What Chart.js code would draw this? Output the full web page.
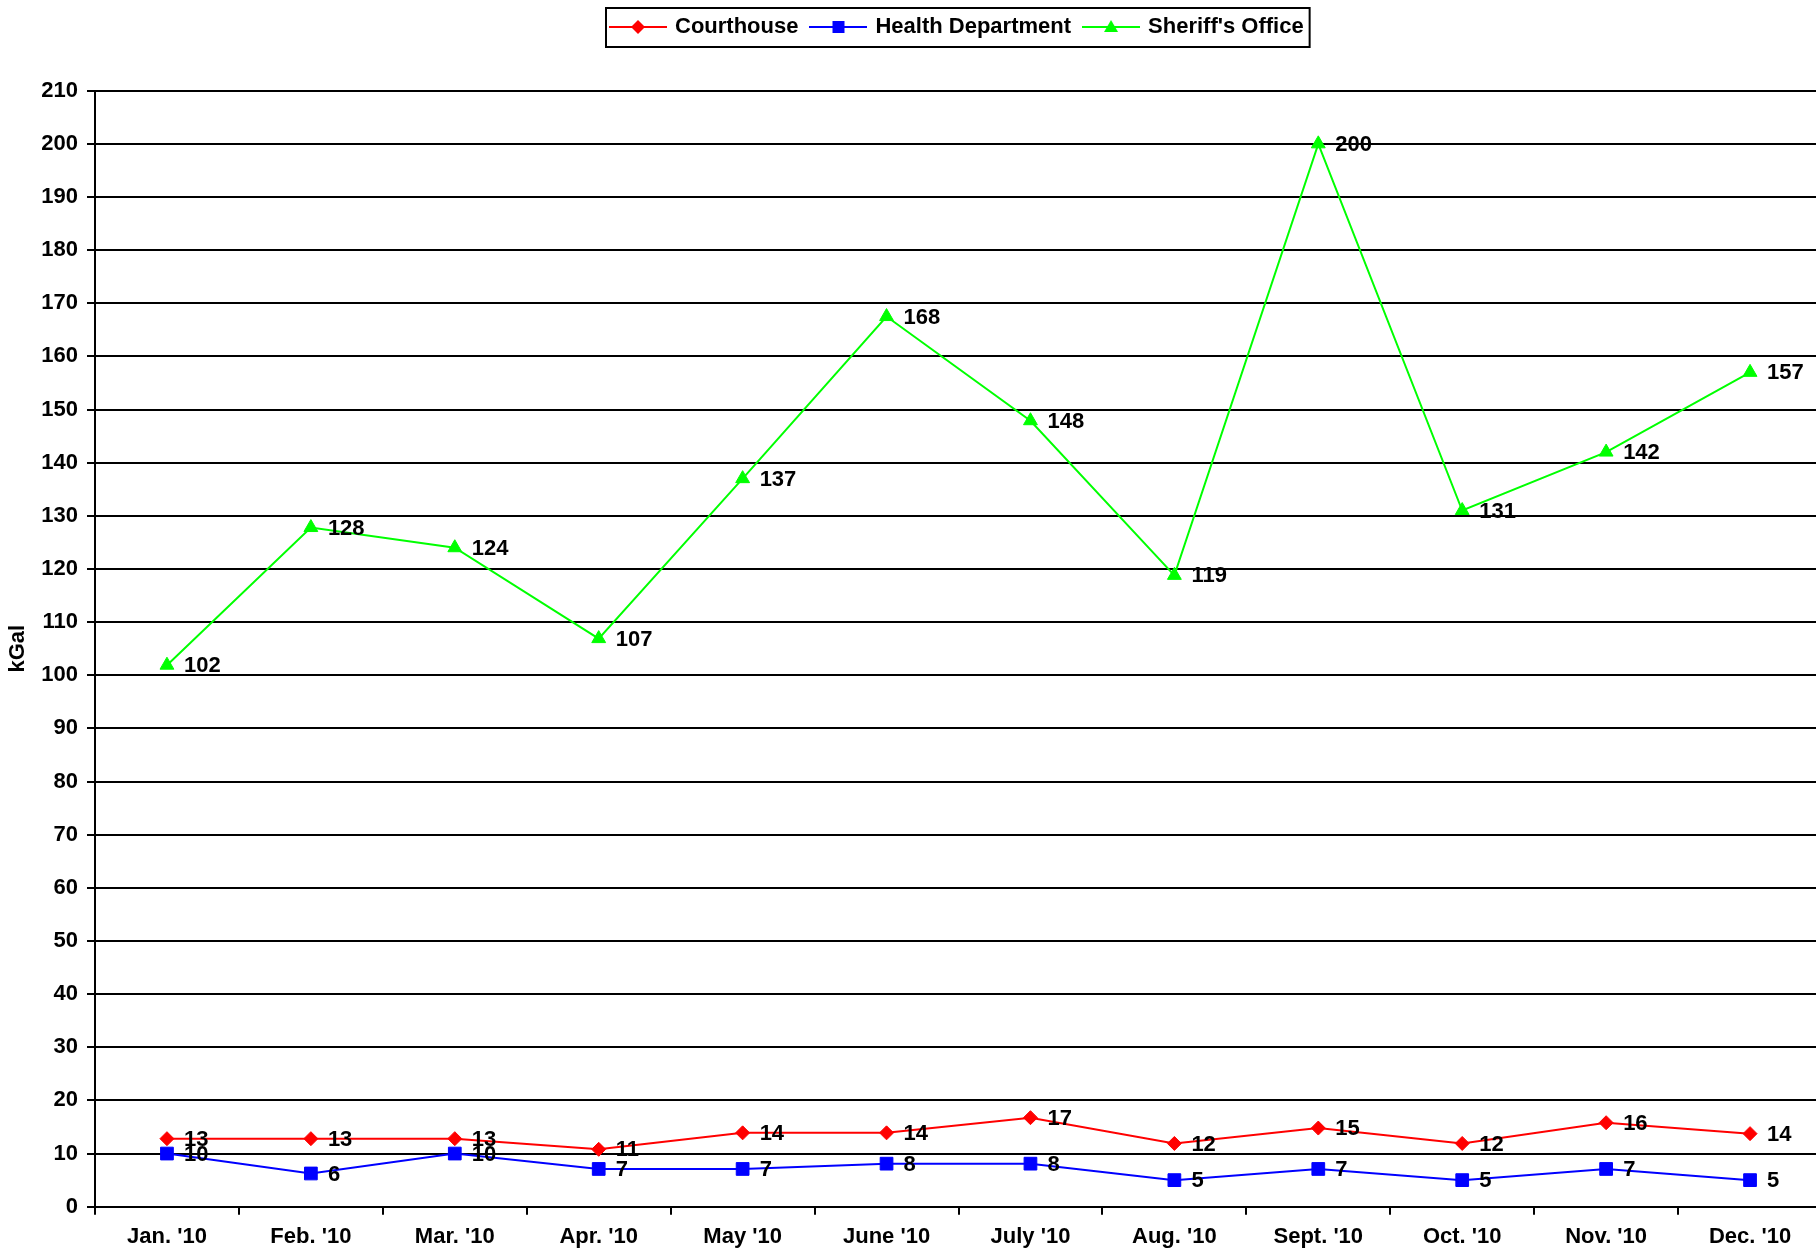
<!DOCTYPE html>
<html>
<head>
<meta charset="utf-8">
<script src="https://cdn.jsdelivr.net/npm/chart.js@4.4.0/dist/chart.umd.min.js"></script>
<style>
  html, body { margin: 0; padding: 0; background: #fff; overflow: hidden; }
  canvas { display: block; }
</style>
</head>
<body>
<canvas id="chart" width="1832" height="1252"></canvas>
<script>
// monthly water use, kGal
const months = ["Jan. '10", "Feb. '10", "Mar. '10", "Apr. '10", "May '10", "June '10",
                "July '10", "Aug. '10", "Sept. '10", "Oct. '10", "Nov. '10", "Dec. '10"];
const courthouse = [12.8, 12.8, 12.8, 10.8, 13.9, 13.9, 16.75, 11.9, 14.8, 11.9, 15.8, 13.75];
const health     = [10.0, 6.25, 10.0, 7.1, 7.1, 8.1, 8.1, 5.0, 7.1, 5.0, 7.1, 5.0];
const sheriff    = [101.9, 127.8, 124.0, 106.9, 137, 167.5, 147.9, 118.8, 200, 131, 142, 157];

const FONT = '"Liberation Sans", Arial, sans-serif';
const FSIZE = 22;
Chart.defaults.font.family = FONT;
Chart.defaults.color = '#000';

// small line+marker picture for each legend entry
function legendSymbol(color, shape) {
  const c = document.createElement('canvas');
  c.width = 58; c.height = 20;
  const g = c.getContext('2d');
  g.strokeStyle = color; g.fillStyle = color; g.lineWidth = 2;
  g.beginPath(); g.moveTo(0, 10); g.lineTo(58, 10); g.stroke();
  g.beginPath();
  if (shape === 'diamond') {
    g.moveTo(29, 3); g.lineTo(36, 10); g.lineTo(29, 17); g.lineTo(22, 10);
  } else if (shape === 'square') {
    g.rect(23, 4, 12, 12);
  } else {
    g.moveTo(29, 3); g.lineTo(36, 15); g.lineTo(22, 15);
  }
  g.closePath(); g.fill();
  return c;
}
const symbols = [legendSymbol('#ff0000', 'diamond'), legendSymbol('#0000ff', 'square'), legendSymbol('#00ff00', 'triangle')];

// legend: fixed height, placed like the original, framed
const legendTweaks = {
  id: 'legendTweaks',
  afterInit(chart) {
    const lg = chart.legend;
    const fit = lg.fit.bind(lg);
    lg.fit = function () { fit(); this.height = 88.7; };
  },
  afterLayout(chart) {
    chart.legend.left = 612 - 14;
  },
  afterDraw(chart) {
    const boxes = chart.legend.legendHitBoxes;
    if (!boxes || !boxes.length) return;
    const first = boxes[0], last = boxes[boxes.length - 1];
    const ctx = chart.ctx;
    ctx.save();
    ctx.strokeStyle = '#000';
    ctx.lineWidth = 2;
    ctx.strokeRect(first.left - 6, 8, last.left + last.width + 6 - (first.left - 6), 39);
    ctx.restore();
  }
};

// value labels to the right of each point
const valueLabels = {
  id: 'valueLabels',
  afterDatasetsDraw(chart) {
    const ctx = chart.ctx;
    ctx.save();
    ctx.font = 'bold ' + FSIZE + 'px ' + FONT;
    ctx.fillStyle = '#000';
    ctx.textAlign = 'left';
    ctx.textBaseline = 'middle';
    chart.data.datasets.forEach((ds, i) => {
      chart.getDatasetMeta(i).data.forEach((pt, j) => {
        ctx.fillText(String(Math.round(ds.data[j])), pt.x + 17, pt.y + 1);
      });
    });
    ctx.restore();
  }
};

new Chart(document.getElementById('chart'), {
  type: 'line',
  data: {
    labels: months,
    datasets: [
      { label: 'Courthouse', data: courthouse, borderColor: '#ff0000', backgroundColor: '#ff0000',
        borderWidth: 2, pointStyle: 'rectRot', pointRadius: 7, pointBorderWidth: 1 },
      { label: 'Health Department', data: health, borderColor: '#0000ff', backgroundColor: '#0000ff',
        borderWidth: 2, pointStyle: 'rect', pointRadius: 9, pointBorderWidth: 1 },
      { label: "Sheriff's Office", data: sheriff, borderColor: '#00ff00', backgroundColor: '#00ff00',
        borderWidth: 2, pointStyle: 'triangle', pointRadius: 8, pointBorderWidth: 1 }
    ]
  },
  options: {
    responsive: false,
    animation: false,
    layout: { padding: { top: 2, left: 0, right: 0, bottom: 0 } },
    plugins: {
      tooltip: { enabled: false },
      legend: {
        position: 'top',
        align: 'start',
        labels: {
          usePointStyle: true,
          pointStyleWidth: 52,
          padding: 14,
          color: '#000',
          font: { size: FSIZE, weight: 'bold' },
          generateLabels(chart) {
            const items = Chart.defaults.plugins.legend.labels.generateLabels(chart);
            items.forEach((it, i) => { it.pointStyle = symbols[i]; });
            return items;
          }
        }
      }
    },
    scales: {
      x: {
        offset: true,
        grid: { offset: true, drawOnChartArea: false, tickLength: 8, color: '#000', lineWidth: 2 },
        border: { color: '#000', width: 2 },
        ticks: { font: { size: FSIZE, weight: 'bold' }, color: '#000', padding: 9, maxRotation: 0, autoSkip: false },
        afterFit(scale) { scale.height = 45.3; }
      },
      y: {
        min: 0,
        max: 210,
        ticks: { stepSize: 10, font: { size: FSIZE, weight: 'bold' }, color: '#000', padding: 9 },
        grid: { color: '#000', lineWidth: 2, tickLength: 8 },
        border: { color: '#000', width: 2 },
        title: { display: true, text: 'kGal', color: '#000', font: { size: FSIZE, weight: 'bold' }, padding: { top: 5, bottom: 0 } },
        afterFit(scale) { scale.width = 95; }
      }
    }
  },
  plugins: [legendTweaks, valueLabels]
});
</script>
</body>
</html>
